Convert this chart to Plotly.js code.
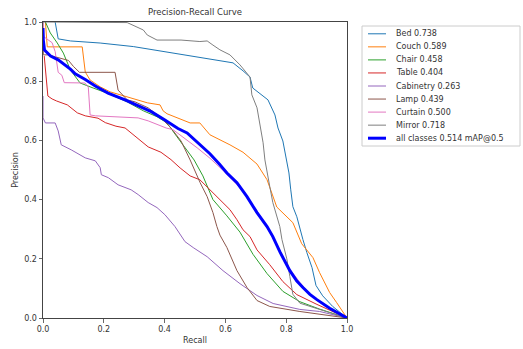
<!DOCTYPE html>
<html><head><meta charset="utf-8">
<script src="https://cdn.plot.ly/plotly-3.0.1.min.js"></script>
<style>html,body{margin:0;padding:0;background:#fff}#c{width:523px;height:349px}</style>
</head><body><div id="c"></div>
<script>
const classNames = ["Bed","Couch","Chair","Table","Cabinetry","Lamp","Curtain","Mirror"];
const classAP = [0.738,0.589,0.458,0.404,0.263,0.439,0.500,0.718];
const allName = "all classes";
const allMAP = 0.514;

const bedR = [0.040,0.050,0.090,0.188,0.297,0.428,0.516,0.625,0.658,0.681,0.690,0.740,0.763,0.773,0.789,0.802,0.809,0.815,0.822,0.835,0.845,0.855,0.868,0.885,0.898,0.920,0.953,1.0];
const bedP = [1.0,0.943,0.936,0.929,0.917,0.895,0.879,0.862,0.835,0.814,0.777,0.737,0.686,0.642,0.598,0.531,0.490,0.433,0.376,0.342,0.298,0.265,0.221,0.170,0.110,0.075,0.039,0.0];

const couchR = [0.008,0.014,0.129,0.139,0.155,0.188,0.221,0.277,0.343,0.385,0.395,0.408,0.484,0.516,0.549,0.615,0.658,0.704,0.737,0.769,0.822,0.851,0.888,0.910,0.943,0.966,1.0];
const couchP = [1.0,0.916,0.916,0.831,0.804,0.781,0.764,0.747,0.727,0.720,0.700,0.690,0.659,0.659,0.619,0.585,0.560,0.520,0.467,0.375,0.322,0.251,0.204,0.153,0.086,0.052,0.0];

const chairR = [0.008,0.024,0.047,0.067,0.090,0.122,0.165,0.211,0.277,0.330,0.375,0.408,0.441,0.465,0.497,0.526,0.559,0.605,0.648,0.691,0.737,0.789,0.845,0.910,1.0];
const chairP = [1.0,0.963,0.929,0.895,0.838,0.794,0.777,0.760,0.730,0.700,0.680,0.659,0.612,0.578,0.534,0.480,0.400,0.345,0.290,0.215,0.150,0.090,0.055,0.030,0.0];

const tableR = [0.004,0.012,0.016,0.030,0.045,0.080,0.113,0.139,0.181,0.205,0.240,0.270,0.313,0.346,0.388,0.421,0.451,0.484,0.516,0.549,0.582,0.615,0.638,0.658,0.681,0.704,0.746,0.789,0.835,0.901,1.0];
const tableP = [0.885,0.780,0.750,0.740,0.733,0.720,0.693,0.683,0.675,0.660,0.648,0.642,0.605,0.578,0.560,0.535,0.507,0.480,0.467,0.433,0.399,0.366,0.332,0.298,0.275,0.230,0.180,0.123,0.079,0.046,0.0];

const cabR = [0.0,0.0,0.008,0.040,0.050,0.060,0.093,0.139,0.172,0.188,0.192,0.215,0.247,0.290,0.313,0.346,0.375,0.401,0.434,0.467,0.494,0.540,0.592,0.648,0.704,0.757,0.845,0.910,1.0];
const cabP = [0.75,0.676,0.659,0.659,0.632,0.585,0.568,0.541,0.531,0.508,0.484,0.474,0.450,0.433,0.417,0.390,0.373,0.349,0.309,0.258,0.238,0.207,0.160,0.116,0.076,0.049,0.029,0.022,0.0];

const lampR = [0.0,0.001,0.017,0.084,0.100,0.120,0.237,0.241,0.247,0.277,0.303,0.346,0.388,0.421,0.454,0.484,0.500,0.517,0.540,0.559,0.572,0.582,0.605,0.638,0.671,0.704,0.746,0.845,1.0];
const lampP = [1.0,0.889,0.889,0.870,0.850,0.830,0.830,0.801,0.770,0.737,0.730,0.710,0.676,0.642,0.598,0.534,0.495,0.457,0.410,0.356,0.309,0.280,0.238,0.160,0.103,0.059,0.039,0.022,0.0];

const curtR = [0.0,0.003,0.030,0.040,0.050,0.062,0.070,0.138,0.149,0.155,0.172,0.313,0.346,0.378,0.405,0.428,0.474,0.507,0.549,0.599,0.648,0.681,0.714,0.746,0.779,0.812,0.845,0.878,0.920,1.0];
const curtP = [1.0,0.950,0.930,0.900,0.830,0.820,0.795,0.794,0.780,0.686,0.683,0.676,0.666,0.652,0.642,0.636,0.602,0.575,0.540,0.492,0.440,0.395,0.345,0.290,0.225,0.165,0.120,0.079,0.046,0.0];

const mirR = [0.0,0.275,0.277,0.330,0.343,0.375,0.454,0.516,0.540,0.559,0.582,0.615,0.648,0.681,0.687,0.704,0.714,0.724,0.730,0.737,0.746,0.756,0.769,0.779,0.786,0.802,0.812,0.822,0.845,0.910,1.0];
const mirP = [1.0,1.0,0.998,0.973,0.956,0.939,0.939,0.934,0.936,0.922,0.906,0.889,0.855,0.814,0.754,0.710,0.653,0.592,0.534,0.490,0.444,0.390,0.342,0.309,0.265,0.200,0.140,0.080,0.050,0.030,0.0];

const allR = [0.0,0.001,0.005,0.025,0.050,0.090,0.106,0.139,0.172,0.214,0.270,0.313,0.356,0.401,0.444,0.474,0.516,0.549,0.580,0.605,0.638,0.671,0.704,0.737,0.756,0.779,0.812,0.835,0.855,0.878,0.901,0.943,1.0];
const allP = [0.98,0.939,0.905,0.885,0.872,0.841,0.825,0.806,0.784,0.760,0.737,0.717,0.697,0.669,0.640,0.625,0.585,0.555,0.520,0.490,0.457,0.410,0.356,0.309,0.275,0.224,0.160,0.125,0.103,0.080,0.062,0.033,0.0];

const colors = ["#1f77b4","#ff7f0e","#2ca02c","#d62728","#9467bd","#8c564b","#e377c2","#7f7f7f"];
const allColor = "#0000ff";

const classR = [bedR,couchR,chairR,tableR,cabR,lampR,curtR,mirR];
const classP = [bedP,couchP,chairP,tableP,cabP,lampP,curtP,mirP];

const traces = [];
for (let i=0;i<classNames.length;i++){
  traces.push({x:classR[i], y:classP[i], mode:'lines', type:'scatter',
    name: classNames[i]+' '+classAP[i].toFixed(3),
    line:{color:colors[i], width:1}, showlegend:false, hoverinfo:'skip'});
}
traces.push({x:allR, y:allP, mode:'lines', type:'scatter',
  name: allName+' '+allMAP.toFixed(3)+' mAP@0.5', line:{color:allColor, width:3}, showlegend:false});

// legend drawn manually (pixel geometry converted to paper units)
const W=523,H=349, L=43, R=176, T=22, B=31;
const pw=W-L-R, ph=H-T-B;
const px=(x)=>(x-L)/pw, py=(y)=>(H-B-y)/ph;
const shapes=[], annotations=[];
shapes.push({type:'rect', xref:'paper', yref:'paper', x0:px(362), x1:px(520), y0:py(26), y1:py(146),
  line:{color:'#cccccc', width:1}, fillcolor:'rgba(255,255,255,0.8)', layer:'above'});
const labels = classNames.map((n,i)=>n+' '+classAP[i].toFixed(3)).concat([allName+' '+allMAP.toFixed(3)+' mAP@0.5']);
const lcolors = colors.concat([allColor]);
labels.forEach((lab,i)=>{
  const yy = 33.8 + i*13.05;
  shapes.push({type:'line', xref:'paper', yref:'paper', x0:px(368), x1:px(386), y0:py(yy), y1:py(yy),
    line:{color:lcolors[i], width: i===labels.length-1?3:1}, layer:'above'});
  annotations.push({xref:'paper', yref:'paper', x:px(394), y:py(yy), xanchor:'left', yanchor:'middle',
    text:lab, showarrow:false, font:{family:'DejaVu Sans', size:8, color:'#333'}});
});

const axisCommon = {range:[0,1], dtick:0.2, tickformat:'.1f', showgrid:false, zeroline:false,
  showline:true, mirror:true, linecolor:'#444', linewidth:1, ticks:'outside', ticklen:3.5, tickwidth:0.8,
  tickcolor:'#444', tickfont:{family:'DejaVu Sans', size:8, color:'#333'}};

const layout = {
  width:W, height:H, margin:{l:L, r:R, t:T, b:B},
  paper_bgcolor:'#fff', plot_bgcolor:'#fff',
  title:{text:'Precision-Recall Curve', font:{family:'DejaVu Sans', size:8.5, color:'#333'}, x:px(195), xanchor:'center', xref:'paper', y:1-12/H, yanchor:'middle'},
  xaxis:Object.assign({}, axisCommon, {title:{text:'Recall', font:{family:'DejaVu Sans', size:8, color:'#333'}, standoff:4}}),
  yaxis:Object.assign({}, axisCommon, {title:{text:'Precision', font:{family:'DejaVu Sans', size:8, color:'#333'}, standoff:4}}),
  shapes:shapes, annotations:annotations, showlegend:false
};
Plotly.newPlot('c', traces, layout, {staticPlot:true, displayModeBar:false});
</script></body></html>
